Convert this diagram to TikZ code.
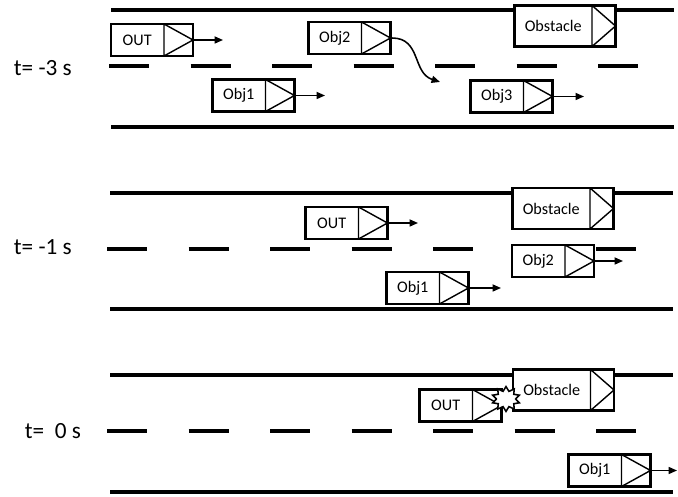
\documentclass[tikz,border=0pt]{standalone}
\usepackage{fontspec}
\setmainfont{Carlito}
\usetikzlibrary{arrows.meta,calc,shapes.symbols}

\begin{document}
\begin{tikzpicture}[x=0.025cm,y=-0.025cm,
                    road/.style={line width=2.3pt},
                    lane/.style={line width=2.3pt,dash pattern=on 1cm off 1.0375cm},
                    tri/.style={path picture={\draw[line width=1pt]
                        ($(path picture bounding box.north east)+(-#1,0)$)
                        -- (path picture bounding box.east)
                        -- ($(path picture bounding box.south east)+(-#1,0)$) -- cycle;}},
                    box/.style={draw,fill=white,line width=2.1pt,inner sep=0pt,
                                font=\fontsize{11.5}{13}\selectfont},
                    car/.style={box,minimum width=2.05cm,minimum height=0.8cm,tri=29,
                                execute at end node={\hspace{0.74cm}}},
                    obstacle/.style={box,minimum width=2.525cm,minimum height=1.025cm,tri=23.5,
                                execute at end node={\hspace{0.59cm}}},
                    tlabel/.style={anchor=base west,font=\fontsize{16.5}{20}\selectfont},
                    mv/.style={-{Triangle[length=6pt,width=5pt]},line width=1.1pt}]

  \useasboundingbox (0,0) rectangle (678,497);

  % t = -3 s
  \node[tlabel] (t3) at (9,76) {t= -3 s};
  \draw[road] (111,10) -- (674,10);
  \draw[lane] (109,66) -- (639,66);
  \draw[road] (111,127) -- (674,127);

  \node[car]      (out1)  at (152,40)     {OUT};
  \node[car]      (obj2a) at (349.5,38)   {Obj2};
  \node[obstacle] (obst1) at (565,26)     {Obstacle};
  \node[car]      (obj1a) at (253.5,95.5) {Obj1};
  \node[car]      (obj3a) at (511.5,96.5) {Obj3};

  \coordinate (h1) at (223,40);
  \coordinate (h2) at (440,82);
  \coordinate (h3) at (325,95.5);
  \coordinate (h4) at (584,96.5);
  \draw[mv] (out1) -- (h1);
  \draw[mv] (obj2a.east) to[out=0,in=162,looseness=1.15] (h2);
  \draw[mv] (obj1a) -- (h3);
  \draw[mv] (obj3a) -- (h4);

  % t = -1 s
  \node[tlabel] (t1) at (9,255) {t= -1 s};
  \draw[road] (110,193) -- (673,193);
  \draw[lane] (107,249) -- (637,249);
  \draw[road] (110,309) -- (673,309);

  \node[car]      (out2)  at (346.5,223) {OUT};
  \node[obstacle] (obst2) at (563,208.5) {Obstacle};
  \node[car]      (obj2b) at (553,261)   {Obj2};
  \node[car]      (obj1b) at (427.5,288) {Obj1};

  \coordinate (k1) at (418,223);
  \coordinate (k2) at (623,261);
  \coordinate (k3) at (501,288);
  \draw[mv] (out2) -- (k1);
  \draw[mv] (obj2b) -- (k2);
  \draw[mv] (obj1b) -- (k3);

  % t = 0 s
  \node[tlabel] (t0) at (20,439) {t=\ \ 0 s};
  \draw[road] (110,375) -- (673,375);
  \draw[lane] (107,431) -- (637,431);
  \draw[road] (110,492) -- (673,492);

  \node[car]      (out3)  at (460.5,405.5) {OUT};
  \node[obstacle] (obst3) at (563.5,390)   {Obstacle};
  \node[car]      (obj1c) at (609.5,470.5) {Obj1};

  \coordinate (m1) at (677,470.5);
  \draw[mv] (obj1c) -- (m1);

  \node[starburst,draw,fill=white,line width=1.1pt,inner sep=0pt,
        minimum width=0.7cm,minimum height=0.62cm,
        starburst points=10,starburst point height=0.11cm,random starburst=0] (crash) at (506,399) {};
\end{tikzpicture}
\end{document}
